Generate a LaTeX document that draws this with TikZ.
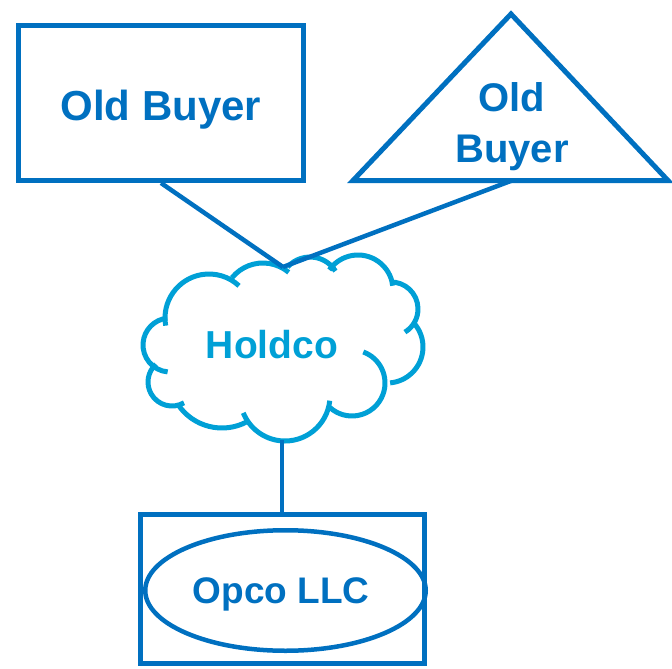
\documentclass[tikz,border=0pt]{standalone}
\usepackage{fontspec}
\setmainfont{Liberation Sans}
\usetikzlibrary{shapes.geometric}
\definecolor{buyerblue}{RGB}{0,112,192}
\definecolor{holdcoblue}{RGB}{0,160,214}
\begin{document}
\begin{tikzpicture}[x=1pt, y=-1pt,
		outline/.style={draw=buyerblue, line width=5pt, inner sep=0pt},
		labeltext/.style={text=buyerblue, font=\bfseries\fontsize{#1}{#1}\selectfont, inner sep=0pt},
		linkline/.style={draw=buyerblue, line width=4.5pt},
		puffline/.style={draw=holdcoblue, line width=5pt, line join=round}]
		\useasboundingbox (0,0) rectangle (672,669);

		% old buyer, the box
		\node[outline, minimum width=285pt, minimum height=155pt] (oldbox) at (161,103) {};
		\node[labeltext=42pt, anchor=base] (oldtext) at (161,120) {Old Buyer};

		% old buyer, the triangle
		\coordinate (tritop) at (511,14);
		\coordinate (trileft) at (353,180.5);
		\coordinate (triright) at (668,180.5);
		\coordinate (tribase) at (512,180.5);
		\draw[outline] (tritop) -- (trileft) -- (triright) -- cycle;
		\node[labeltext=40pt, font=\bfseries\fontsize{40pt}{51pt}\selectfont, align=center] (tritext) at (512,127) {Old\\Buyer};

		% holdco cloud, one arc per puff: centre x/y, radius, start, end
		\foreach \cx/\cy/\r/\sa/\ea in {209/318/44/170/313, 263/303/40/219/310, 310/287/30/222/328,
				358/290/35/215/353, 391/309/27/268/419, 387/347/36/317/445, 352/383/33/290/492,
				285/396/45/6/158, 222/375/53/62/146, 172/382/24/60/228, 170/345/27/95/264}
			\draw[puffline] (\cx,\cy) ++(\sa:\r) arc[start angle=\sa, end angle=\ea, radius=\r];
		\node[labeltext=39pt, text=holdcoblue, anchor=base] (holdco) at (272,358) {Holdco};
		\coordinate (holdcotop) at (283,267);
		\coordinate (holdcobot) at (282,440);

		% opco
		\node[outline, minimum width=284pt, minimum height=149pt] (opcobox) at (282,589) {};
		\node[outline, line width=4.5pt, ellipse, minimum width=280.5pt, minimum height=120.5pt] (opcoring) at (285.5,590.5) {};
		\node[labeltext=37pt, anchor=base] (opcotext) at (281,603) {Opco LLC};

		\draw[linkline] (oldbox.south) -- (holdcotop);
		\draw[linkline] (tribase) -- (holdcotop);
		\draw[linkline] (holdcobot) -- (opcobox.north);
	\end{tikzpicture}
\end{document}
